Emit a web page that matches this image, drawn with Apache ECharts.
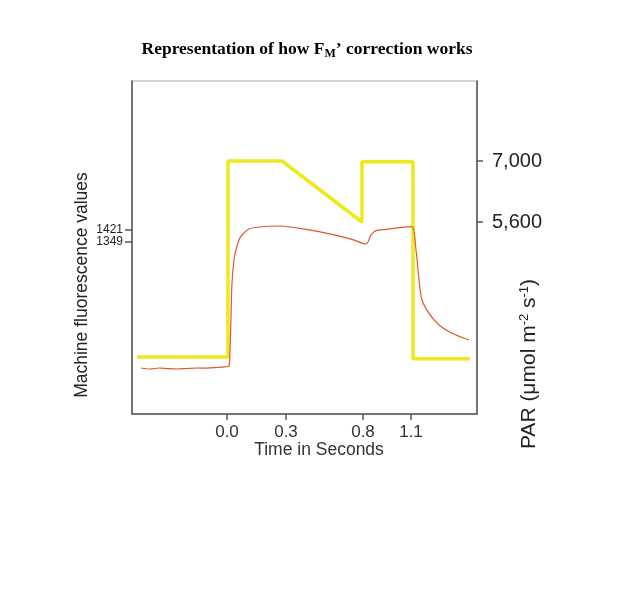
<!DOCTYPE html>
<html>
<head>
<meta charset="utf-8">
<script src="https://cdn.jsdelivr.net/npm/echarts@6/dist/echarts.min.js"></script>
<style>html,body{margin:0;padding:0;background:#fff;}#c{width:640px;height:600px;}</style>
</head>
<body>
<div id="c"></div>
<script>
// Schematic x positions (the original time axis is not drawn to scale)
const xTickPositions = [95, 154, 231, 279];
const xTickLabels = ['0.0', '0.3', '0.8', '1.1'];

// Left axis: machine fluorescence values
const fluorTicks = [1349, 1421];
// Right axis: PAR
const parTicks = [5600, 7000];

// PAR (yellow) series: [position, PAR]
const parX = [5, 96, 96, 150, 230, 230, 281, 281, 338];
const parY = [2500, 2500, 7000, 7000, 5600, 6980, 6980, 2460, 2460];

// Fluorescence (red) series: [position, value]
const fluorX = [9, 18, 27, 36, 45, 55, 65, 75, 85, 93, 97, 98, 99, 100, 102, 104, 107, 110, 117, 127, 147, 174, 200, 220, 234, 239, 244, 254, 270, 280, 284, 287, 290, 297, 307, 320, 337];
const fluorY = [593, 587, 593, 589, 587, 590, 593, 592, 596, 600, 605, 700, 900, 1103, 1241, 1301, 1361, 1391, 1427, 1439, 1445, 1425, 1395, 1365, 1337, 1391, 1417, 1425, 1437, 1441, 1301, 1121, 1001, 921, 851, 801, 761];

const parData = parX.map((x, i) => [x, parY[i]]);
const fluorData = fluorX.map((x, i) => [x, fluorY[i]]);

const chart = echarts.init(document.getElementById('c'));
const axisColor = '#555';
chart.setOption({
  animation: false,
  backgroundColor: '#fff',
  title: {
    text: '{a|Representation of how F}{s|M}{a|\u2019 correction works}',
    left: 302, top: 34, textAlign: 'center',
    textStyle: {
      rich: {
        a: {fontFamily: 'Liberation Serif', fontWeight: 'bold', fontSize: 17.5, color: '#000'},
        s: {fontFamily: 'Liberation Serif', fontWeight: 'bold', fontSize: 12, color: '#000', verticalAlign: 'bottom', padding: [9, 0, 0, 0]}
      }
    }
  },
  grid: {left: 132, top: 81, right: 163, bottom: 186, show: true, borderColor: '#aaa', borderWidth: 1},
  xAxis: {
    type: 'value', min: 0, max: 345,
    axisLine: {show: true, lineStyle: {color: axisColor, width: 1.5}},
    axisTick: {show: true, customValues: xTickPositions, length: 6, lineStyle: {color: axisColor, width: 1.5}},
    axisLabel: {
      customValues: xTickPositions, fontFamily: 'Liberation Sans', fontSize: 17, color: '#333', margin: 10,
      formatter: v => xTickLabels[xTickPositions.indexOf(v)]
    },
    splitLine: {show: false}
  },
  yAxis: [{
    type: 'value', min: 317, max: 2315, position: 'left',
    axisLine: {show: true, lineStyle: {color: axisColor, width: 1.5}},
    axisTick: {show: true, customValues: fluorTicks, length: 7, lineStyle: {color: axisColor, width: 1.5}},
    axisLabel: {customValues: fluorTicks, fontFamily: 'Liberation Sans', fontSize: 12, color: '#222', margin: 9,
      formatter: v => String(v)},
    splitLine: {show: false}
  }, {
    type: 'value', min: 1193, max: 8836, position: 'right',
    axisLine: {show: true, lineStyle: {color: axisColor, width: 1.5}},
    axisTick: {show: true, customValues: parTicks, length: 6, lineStyle: {color: axisColor, width: 1.5}},
    axisLabel: {customValues: parTicks, fontFamily: 'Liberation Sans', fontSize: 20, color: '#222', margin: 15,
      formatter: v => v.toLocaleString('en-US')},
    splitLine: {show: false}
  }],
  graphic: [{
    type: 'text', x: 82, y: 285, rotation: Math.PI / 2,
    style: {text: 'Machine fluorescence values', font: '17.5px "Liberation Sans"', fill: '#222', align: 'center', verticalAlign: 'middle'}
  }, {
    type: 'text', x: 319, y: 450,
    style: {text: 'Time in Seconds', font: '17.5px "Liberation Sans"', fill: '#333', align: 'center', verticalAlign: 'middle'}
  }, {
    type: 'text', x: 529, y: 364, rotation: Math.PI / 2,
    style: {
      text: '{a|PAR (\u03bcmol m}{s|-2}{a| s}{s|-1}{a|)}',
      align: 'center', verticalAlign: 'middle',
      rich: {
        a: {fontFamily: 'Liberation Sans', fontSize: 21, fill: '#222'},
        s: {fontFamily: 'Liberation Sans', fontSize: 13, fill: '#222', verticalAlign: 'top', padding: [0, 0, 9, 0]}
      }
    }
  }],
  series: [{
    type: 'line', yAxisIndex: 1, data: parData, showSymbol: false,
    lineStyle: {color: '#eee81e', width: 3.5}, z: 2
  }, {
    type: 'line', yAxisIndex: 0, data: fluorData, showSymbol: false, smooth: 0.3,
    lineStyle: {color: '#e4552e', width: 1.2}, z: 3
  }]
});
</script>
</body>
</html>
